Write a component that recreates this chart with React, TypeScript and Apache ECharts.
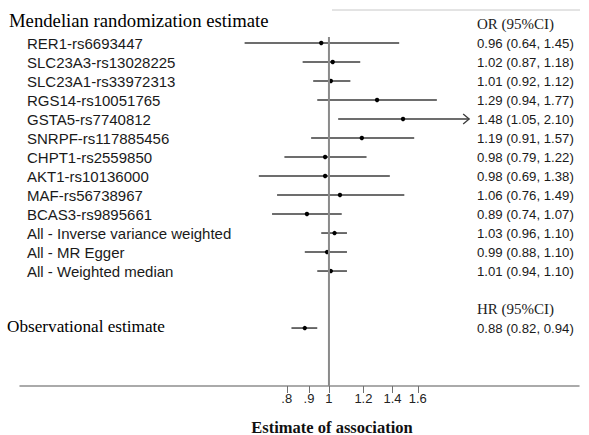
import React, { useEffect, useRef } from "react";
import * as echarts from "echarts";

// ---- data ----
const mrLabels = [
  "RER1-rs6693447",
  "SLC23A3-rs13028225",
  "SLC23A1-rs33972313",
  "RGS14-rs10051765",
  "GSTA5-rs7740812",
  "SNRPF-rs117885456",
  "CHPT1-rs2559850",
  "AKT1-rs10136000",
  "MAF-rs56738967",
  "BCAS3-rs9895661",
  "All - Inverse variance weighted",
  "All - MR Egger",
  "All - Weighted median",
];
const mrEst = [0.96, 1.02, 1.01, 1.29, 1.48, 1.19, 0.98, 0.98, 1.06, 0.89, 1.03, 0.99, 1.01];
const mrLo = [0.64, 0.87, 0.92, 0.94, 1.05, 0.91, 0.79, 0.69, 0.76, 0.74, 0.96, 0.88, 0.94];
const mrHi = [1.45, 1.18, 1.12, 1.77, 2.1, 1.57, 1.22, 1.38, 1.49, 1.07, 1.1, 1.1, 1.1];
const mrArrow = [0, 0, 0, 0, 1, 0, 0, 0, 0, 0, 0, 0, 0];

const obsEst = [0.88];
const obsLo = [0.82];
const obsHi = [0.94];

const tickValues = [0.8, 0.9, 1, 1.2, 1.4, 1.6];
const tickLabels = [".8", ".9", "1", "1.2", "1.4", "1.6"];

const mrTitle = "Mendelian randomization estimate";
const obsTitle = "Observational estimate";
const orHeader = "OR (95%CI)";
const hrHeader = "HR (95%CI)";
const axisTitle = "Estimate of association";

// rows
const OBS_ROW = 15;
const HR_ROW = 14;
const OR_ROW = -1;

const fmt = (e: number, l: number, h: number) =>
  `${e.toFixed(2)} (${l.toFixed(2)}, ${h.toFixed(2)})`;

export default function App() {
  const ref = useRef<HTMLDivElement>(null);
  useEffect(() => {
    if (!ref.current) return;
    const chart = echarts.init(ref.current, null, { renderer: "svg" });

    const ciData: number[][] = mrEst.map((e, i) => [
      Math.log(mrLo[i]),
      Math.log(mrHi[i]),
      Math.log(e),
      i,
      mrArrow[i],
    ]);
    obsEst.forEach((e, i) => {
      ciData.push([Math.log(obsLo[i]), Math.log(obsHi[i]), Math.log(e), OBS_ROW, 0]);
    });

    type Lab = { text: string; row: number; kind: string };
    const labels: Lab[] = [];
    mrLabels.forEach((t, i) => labels.push({ text: t, row: i, kind: "left" }));
    mrEst.forEach((e, i) => labels.push({ text: fmt(e, mrLo[i], mrHi[i]), row: i, kind: "right" }));
    obsEst.forEach((e, i) => labels.push({ text: fmt(e, obsLo[i], obsHi[i]), row: OBS_ROW, kind: "right" }));
    labels.push({ text: mrTitle, row: -1.2, kind: "title" });
    labels.push({ text: obsTitle, row: OBS_ROW - 0.1, kind: "title2" });
    labels.push({ text: orHeader, row: OR_ROW, kind: "header" });
    labels.push({ text: hrHeader, row: HR_ROW, kind: "header" });

    const tickLn = tickValues.map((v) => Math.log(v));

    chart.setOption({
      animation: false,
      grid: { left: 20, right: 10, top: 10, bottom: 49 },
      xAxis: {
        type: "value",
        min: Math.log(0.195),
        max: Math.log(3.755),
        axisLine: { show: true, onZero: false, lineStyle: { color: "#8e8e8e", width: 1.5 } },
        axisTick: {
          show: true,
          customValues: tickLn,
          length: 7,
          lineStyle: { color: "#707070", width: 1 },
        },
        axisLabel: {
          customValues: tickLn,
          color: "#222",
          fontSize: 13,
          fontFamily: "Liberation Sans",
          margin: 6,
          formatter: (v: number) => {
            let best = 0;
            tickLn.forEach((t, i) => {
              if (Math.abs(t - v) < Math.abs(tickLn[best] - v)) best = i;
            });
            return tickLabels[best];
          },
        },
        splitLine: { show: false },
      },
      yAxis: {
        type: "value",
        inverse: true,
        min: -1.737,
        max: 18.05,
        show: false,
      },
      graphic: [
        {
          type: "line",
          shape: { x1: 332, y1: 10, x2: 580, y2: 10 },
          style: { stroke: "#c8c8c8", lineWidth: 1 },
        },
        {
          type: "text",
          x: 332,
          y: 427,
          style: {
            text: axisTitle,
            fill: "#111",
            fontSize: 16.5,
            fontWeight: "bold",
            fontFamily: "Liberation Serif",
            align: "center",
            verticalAlign: "middle",
          },
        },
      ],
      series: [
        {
          type: "line",
          data: [
            [0, -0.32],
            [0, 18.05],
          ],
          symbol: "none",
          lineStyle: { color: "#8a8a8a", width: 2 },
          silent: true,
        },
        {
          type: "custom",
          data: ciData,
          renderItem: (params: any, api: any) => {
            const lo = api.value(0);
            const hi = api.value(1);
            const est = api.value(2);
            const row = api.value(3);
            const arrow = api.value(4);
            const a = api.coord([lo, row]);
            const b = api.coord([hi, row]);
            const c = api.coord([est, row]);
            const children: any[] = [
              {
                type: "line",
                shape: { x1: a[0], y1: a[1], x2: b[0], y2: b[1] },
                style: { stroke: "#3c3c3c", lineWidth: 1.5 },
              },
              {
                type: "circle",
                shape: { cx: c[0], cy: c[1], r: 2.2 },
                style: { fill: "#000" },
              },
            ];
            if (arrow) {
              children.push({
                type: "polyline",
                shape: {
                  points: [
                    [b[0] - 6, b[1] - 5],
                    [b[0], b[1]],
                    [b[0] - 6, b[1] + 5],
                  ],
                },
                style: { stroke: "#3c3c3c", lineWidth: 1.3, fill: "none" },
              });
            }
            return { type: "group", children };
          },
        },
        {
          type: "custom",
          data: labels.map((l) => [0, l.row]),
          renderItem: (params: any, api: any) => {
            const l = labels[params.dataIndex];
            const y = api.coord([0, l.row])[1];
            let x = 27;
            let style: any = {
              fontSize: 15,
              fontFamily: "Liberation Sans",
              fill: "#1a1a1a",
            };
            if (l.kind === "right") {
              x = 477;
              style = { fontSize: 13.2, fontFamily: "Liberation Sans", fill: "#1a1a1a" };
            } else if (l.kind === "title") {
              x = 9;
              style = { fontSize: 18.7, fontFamily: "Liberation Serif", fill: "#000" };
            } else if (l.kind === "title2") {
              x = 7;
              style = { fontSize: 17.2, fontFamily: "Liberation Serif", fill: "#000" };
            } else if (l.kind === "header") {
              x = 477;
              style = { fontSize: 15, fontFamily: "Liberation Serif", fill: "#222" };
            }
            return {
              type: "text",
              x,
              y,
              style: { ...style, text: l.text, align: "left", verticalAlign: "middle" },
            };
          },
        },
      ],
    });
    return () => chart.dispose();
  }, []);
  return (
    <div
      ref={ref}
      style={{ position: "fixed", left: 0, top: 0, width: 589, height: 435, background: "#fff" }}
    />
  );
}
